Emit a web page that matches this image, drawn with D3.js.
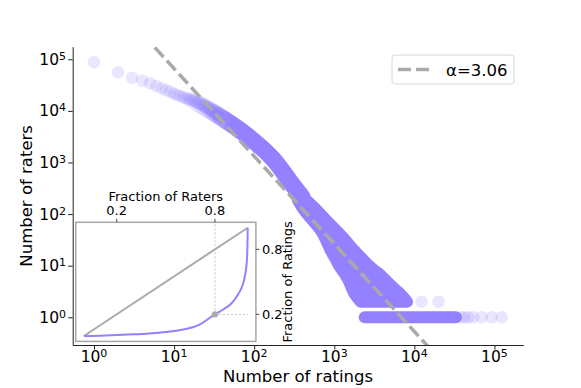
<!DOCTYPE html>
<html>
<head>
<meta charset="utf-8">
<script src="https://cdn.jsdelivr.net/npm/d3@7"></script>
<style>
    body { margin: 0; background: #fff; }
    svg { font-family: "DejaVu Sans", sans-serif; }
</style>
</head>
<body>
<div id="chart"></div>
<script>
/*
    Data
*/
const logTicks = [1, 10, 100, 1000, 10000, 100000];

// low rating counts, one circle per count
const lowRatings = [1, 2, 3, 4, 5, 6, 7, 8, 9, 10, 11, 12, 13, 14, 15, 16, 17, 18, 19, 20,
    21, 22, 23, 24, 25, 26, 27, 28, 29, 30, 31, 32, 33, 34, 35, 36, 37, 38, 39, 40];
const lowRaters = [87000, 56000, 44000, 38500, 34300, 30200, 27500, 25100, 23400, 21400,
    20300, 19300, 18400, 17700, 17000, 16400, 15800, 15300, 14700, 14100,
    13700, 13200, 12700, 12200, 11700, 11300, 10900, 10500, 10100, 9800,
    9500, 9100, 8850, 8600, 8300, 8050, 7800, 7600, 7400, 7200];

// dense middle of the cloud (centre line)
const bandRatings = [17, 32, 77, 172, 280, 395];
const bandRaters = [15800, 9000, 3570, 1170, 430, 214];

// tail: spread of rating counts for each rater count
const tailRaters = [190, 120, 75, 45, 30, 20, 15, 12, 10, 8, 7, 6, 5, 4, 3, 2];
const tailMinRatings = [350, 420, 540, 700, 800, 900, 1000, 1080, 1150, 1270, 1350, 1430, 1530, 1620, 1760, 2150];
const tailMaxRatings = [440, 600, 800, 1100, 1400, 1750, 2100, 2400, 2700, 3200, 3600, 4000, 4500, 5200, 6400, 8100];

// single-rater row
const oneRaterRange = [2400, 33000];

// isolated points at the far right
const strayRatings = [12300, 20000, 38000, 42000, 47000, 54000, 69000, 92000, 123000];
const strayRaters = [2, 2, 1, 1, 1, 1, 1, 1, 1];

// power-law fit
const fitRatings = [1, 100000];
const fitRaters = [3300000, 0.0106];
const fitLabel = "α=3.06";

// inset: Lorenz curve
const raterShare = [0, 0.1, 0.2, 0.3, 0.4, 0.5, 0.6, 0.7, 0.8, 0.85, 0.9, 0.94, 0.965, 0.98, 0.99, 0.997, 1.0];
const ratingShare = [0, 0.003, 0.008, 0.015, 0.024, 0.037, 0.058, 0.10, 0.20, 0.245, 0.30, 0.38, 0.455, 0.53, 0.62, 0.75, 1.0];
const equalShare = [0, 1];
const insetTicks = [0.2, 0.8];
const markShare = [0.8, 0.2];

/*
    Draw
*/
function main() {
    const width = 581;
    const height = 388;
    const purple = "#9381ff";
    const grey = "#aaaaaa";

    const svg = d3.select("#chart").append("svg")
        .attr("width", width)
        .attr("height", height);

    const left = 72.7, right = 523.3, top = 46.7, bottom = 345;

    const x = d3.scaleLog()
        .domain([Math.pow(10, -0.266), Math.pow(10, 5.36)])
        .range([left, right]);
    const y = d3.scaleLog()
        .domain([Math.pow(10, -0.537), Math.pow(10, 5.244)])
        .range([bottom, top]);

    const defs = svg.append("defs");
    defs.append("clipPath").attr("id", "plot-clip")
        .append("rect")
        .attr("x", left).attr("y", top)
        .attr("width", right - left).attr("height", bottom - top);
    // band fades in where the points get sparse
    const fade = defs.append("linearGradient")
        .attr("id", "band-fade")
        .attr("gradientUnits", "userSpaceOnUse")
        .attr("x1", x(15)).attr("x2", x(50))
        .attr("y1", 0).attr("y2", 0);
    fade.append("stop").attr("offset", 0).attr("stop-color", purple).attr("stop-opacity", 0.1);
    fade.append("stop").attr("offset", 1).attr("stop-color", purple).attr("stop-opacity", 1);

    const plot = svg.append("g").attr("clip-path", "url(#plot-clip)");

    // tail area (stroke gives the marker radius)
    const tailRows = tailRaters.map((r, i) => ({ r: r, lo: tailMinRatings[i], hi: tailMaxRatings[i] }));
    plot.append("path")
        .datum(tailRows)
        .attr("d", d3.area()
            .y(d => y(d.r))
            .x0(d => x(d.lo))
            .x1(d => x(d.hi))
            .curve(d3.curveMonotoneY))
        .attr("fill", purple)
        .attr("stroke", purple)
        .attr("stroke-width", 12)
        .attr("stroke-linejoin", "round");

    // row of single raters
    plot.append("line")
        .attr("x1", x(oneRaterRange[0])).attr("x2", x(oneRaterRange[1]))
        .attr("y1", y(1)).attr("y2", y(1))
        .attr("stroke", purple)
        .attr("stroke-width", 12)
        .attr("stroke-linecap", "round");

    // dense band
    const band = bandRatings.map((v, i) => [v, bandRaters[i]]);
    plot.append("path")
        .datum(band)
        .attr("d", d3.line().x(d => x(d[0])).y(d => y(d[1])).curve(d3.curveCatmullRom))
        .attr("fill", "none")
        .attr("stroke", "url(#band-fade)")
        .attr("stroke-width", 17)
        .attr("stroke-linecap", "round")
        .attr("stroke-linejoin", "round");

    // individual points
    const singles = lowRatings.map((v, i) => [v, lowRaters[i]])
        .concat(strayRatings.map((v, i) => [v, strayRaters[i]]));
    plot.selectAll(".pt")
        .data(singles)
        .enter()
        .append("circle")
        .attr("class", "pt")
        .attr("cx", d => x(d[0]))
        .attr("cy", d => y(d[1]))
        .attr("r", 6.3)
        .attr("fill", purple)
        .attr("fill-opacity", 0.2);

    // fit line
    plot.append("line")
        .attr("x1", x(fitRatings[0])).attr("y1", y(fitRaters[0]))
        .attr("x2", x(fitRatings[1])).attr("y2", y(fitRaters[1]))
        .attr("stroke", grey)
        .attr("stroke-width", 3.5)
        .attr("stroke-dasharray", "13,5");

    // axes
    const xAxis = svg.append("g")
        .attr("transform", `translate(0, ${bottom})`)
        .call(d3.axisBottom(x).tickValues(logTicks).tickSize(4.5).tickSizeOuter(0).tickFormat(() => ""));
    const yAxis = svg.append("g")
        .attr("transform", `translate(${left}, 0)`)
        .call(d3.axisLeft(y).tickValues(logTicks).tickSize(4.5).tickSizeOuter(0).tickFormat(() => ""));
    [xAxis, yAxis].forEach(ax => {
        ax.selectAll("path, line").attr("stroke", "#222").attr("stroke-width", 1);
    });

    // power-of-ten labels
    const powerLabel = (sel, v) => {
        sel.append("tspan").text("10");
        sel.append("tspan")
            .attr("dy", "-0.45em")
            .style("font-size", "11px")
            .text(Math.round(Math.log10(v)));
    };
    logTicks.forEach(v => {
        svg.append("text")
            .attr("x", x(v))
            .attr("y", 362)
            .attr("text-anchor", "middle")
            .style("font-size", "15.5px")
            .call(powerLabel, v);
        svg.append("text")
            .attr("x", 66)
            .attr("y", y(v) + 5.5)
            .attr("text-anchor", "end")
            .style("font-size", "15.5px")
            .call(powerLabel, v);
    });

    svg.append("text")
        .attr("x", (left + right) / 2)
        .attr("y", 381.5)
        .attr("text-anchor", "middle")
        .style("font-size", "16.5px")
        .text("Number of ratings");
    svg.append("text")
        .attr("transform", `translate(32, ${(top + bottom) / 2}) rotate(-90)`)
        .attr("text-anchor", "middle")
        .style("font-size", "16.5px")
        .text("Number of raters");

    // legend
    const lg = svg.append("g");
    lg.append("rect")
        .attr("x", 392).attr("y", 55)
        .attr("width", 122).attr("height", 29)
        .attr("rx", 3)
        .attr("fill", "#fff")
        .attr("fill-opacity", 0.8)
        .attr("stroke", "#d8d8d8");
    lg.append("line")
        .attr("x1", 398).attr("x2", 430)
        .attr("y1", 69.5).attr("y2", 69.5)
        .attr("stroke", grey)
        .attr("stroke-width", 3.5)
        .attr("stroke-dasharray", "13,5");
    lg.append("text")
        .attr("x", 446).attr("y", 75.5)
        .style("font-size", "16.5px")
        .text(fitLabel);

    loadInset(svg, purple, grey);
}

function loadInset(svg, purple, grey) {
    const ix = d3.scaleLinear().domain([-0.05, 1.05]).range([75.7, 255.9]);
    const iy = d3.scaleLinear().domain([-0.05, 1.05]).range([341.4, 222.3]);
    const g = svg.append("g");

    g.append("rect")
        .attr("x", ix(-0.05)).attr("y", iy(1.05))
        .attr("width", ix(1.05) - ix(-0.05))
        .attr("height", iy(-0.05) - iy(1.05))
        .attr("fill", "#fff")
        .attr("stroke", "#a6a6a6")
        .attr("stroke-width", 1.5);

    // guide lines
    g.append("line")
        .attr("x1", ix(markShare[0])).attr("x2", ix(markShare[0]))
        .attr("y1", iy(markShare[1])).attr("y2", iy(1.05))
        .attr("stroke", "#c4c4c4").attr("stroke-width", 1).attr("stroke-dasharray", "2,2");
    g.append("line")
        .attr("x1", ix(markShare[0])).attr("x2", ix(1))
        .attr("y1", iy(markShare[1])).attr("y2", iy(markShare[1]))
        .attr("stroke", "#c4c4c4").attr("stroke-width", 1).attr("stroke-dasharray", "2,2");

    g.append("line")
        .attr("x1", ix(equalShare[0])).attr("y1", iy(equalShare[0]))
        .attr("x2", ix(equalShare[1])).attr("y2", iy(equalShare[1]))
        .attr("stroke", grey)
        .attr("stroke-width", 2);

    const lorenz = raterShare.map((v, i) => [v, ratingShare[i]]);
    g.append("path")
        .datum(lorenz)
        .attr("d", d3.line().x(d => ix(d[0])).y(d => iy(d[1])).curve(d3.curveMonotoneX))
        .attr("fill", "none")
        .attr("stroke", purple)
        .attr("stroke-width", 2);

    g.append("circle")
        .attr("cx", ix(markShare[0])).attr("cy", iy(markShare[1]))
        .attr("r", 3.2)
        .attr("fill", grey);

    // top and right ticks
    insetTicks.forEach(t => {
        g.append("line")
            .attr("x1", ix(t)).attr("x2", ix(t))
            .attr("y1", iy(1.05)).attr("y2", iy(1.05) - 3.5)
            .attr("stroke", "#222").attr("stroke-width", 0.8);
        g.append("text")
            .attr("x", ix(t)).attr("y", 215)
            .attr("text-anchor", "middle")
            .style("font-size", "13px")
            .text(t);
        g.append("line")
            .attr("x1", ix(1.05)).attr("x2", ix(1.05) + 3.5)
            .attr("y1", iy(t)).attr("y2", iy(t))
            .attr("stroke", "#222").attr("stroke-width", 0.8);
        g.append("text")
            .attr("x", ix(1.05) + 6).attr("y", iy(t) + 4.7)
            .style("font-size", "13px")
            .text(t);
    });

    g.append("text")
        .attr("x", (ix(-0.05) + ix(1.05)) / 2).attr("y", 201)
        .attr("text-anchor", "middle")
        .style("font-size", "13px")
        .text("Fraction of Raters");
    g.append("text")
        .attr("transform", `translate(292, ${(iy(-0.05) + iy(1.05)) / 2}) rotate(-90)`)
        .attr("text-anchor", "middle")
        .style("font-size", "13px")
        .text("Fraction of Ratings");
}

main()
</script>
</body>
</html>
